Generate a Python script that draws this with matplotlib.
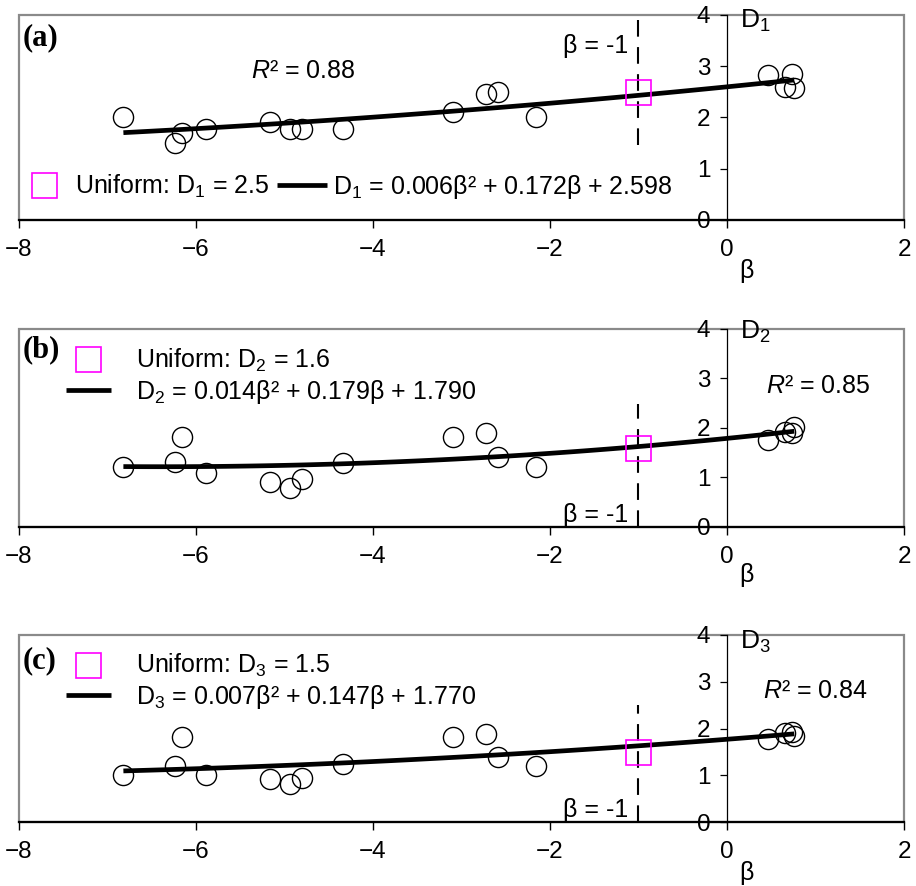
import matplotlib
matplotlib.use("Agg")
import matplotlib.pyplot as plt
import numpy as np
from matplotlib.patches import Rectangle

plt.rcParams['font.family'] = ['Liberation Sans', 'DejaVu Sans']
plt.rcParams['mathtext.fontset'] = 'custom'
plt.rcParams['mathtext.rm'] = 'Liberation Sans'
plt.rcParams['mathtext.it'] = 'Liberation Sans:italic'

# beta of each sample (same in all three panels)
beta = [-6.82, -6.24, -6.16, -5.89, -5.16, -4.94, -4.80, -4.34,
        -3.10, -2.72, -2.59, -2.16, 0.46, 0.65, 0.73, 0.76]

D1 = [2.0, 1.5, 1.7, 1.78, 1.91, 1.78, 1.78, 1.77,
      2.1, 2.45, 2.5, 2.0, 2.82, 2.6, 2.84, 2.58]
D2 = [1.21, 1.31, 1.82, 1.1, 0.91, 0.79, 0.96, 1.3,
      1.82, 1.9, 1.41, 1.21, 1.76, 1.92, 1.89, 2.02]
D3 = [1.01, 1.2, 1.81, 1.0, 0.91, 0.81, 0.95, 1.25,
      1.81, 1.89, 1.39, 1.2, 1.77, 1.9, 1.93, 1.83]

# quadratic fits as printed on the chart
fit1 = [0.006, 0.172, 2.598]
fit2 = [0.014, 0.179, 1.790]
fit3 = [0.007, 0.147, 1.770]

r2 = [0.88, 0.85, 0.84]
uniform_beta = -1
uniform_D = [2.5, 1.6, 1.5]
ref_span = [(1.47, 3.92), (0.0, 2.49), (0.0, 2.5)]

panels = [
    dict(tag='(a)', D=D1, fit=fit1, sub='1', rect=[0.0207, 0.7517, 0.9662, 0.2314],
         tag_y=1 - 23 / 205, dlab_y=3.88, r2_xy=(-5.38, 2.9), bref_y=3.39,
         one_row=True, leg_y=0.161, xlab_y=-51 / 205),
    dict(tag='(b)', D=D2, fit=fit2, sub='2', rect=[0.0207, 0.4052, 0.9662, 0.2235],
         tag_y=1 - 21 / 198, dlab_y=3.94, r2_xy=(0.44, 2.84), bref_y=0.24,
         one_row=False, leg_y=0.76, xlab_y=-48 / 198),
    dict(tag='(c)', D=D3, fit=fit3, sub='3', rect=[0.0207, 0.0722, 0.9662, 0.2111],
         tag_y=1 - 26 / 187, dlab_y=3.85, r2_xy=(0.41, 2.80), bref_y=0.26,
         one_row=False, leg_y=0.75, xlab_y=-51 / 187),
]

fig = plt.figure(figsize=(9.16, 8.86), dpi=100)

for i, p in enumerate(panels):
    ax = fig.add_axes(p['rect'])
    ax.set_xlim(-8, 2)
    ax.set_ylim(0, 4)

    # gray plot-area frame
    ax.add_patch(Rectangle((0, 0), 1, 1, transform=ax.transAxes, fill=False,
                           edgecolor='#8a8a8a', lw=1.6, clip_on=False, zorder=0))
    for s in ['top', 'right']:
        ax.spines[s].set_visible(False)
    ax.spines['left'].set_position(('data', 0))
    ax.spines['left'].set_linewidth(0.9)
    ax.spines['bottom'].set_linewidth(1.6)

    ax.set_xticks([-8, -6, -4, -2, 0, 2])
    ax.set_yticks([0, 1, 2, 3, 4])
    ax.tick_params(axis='x', direction='out', length=6, width=1, pad=8, labelsize=17.5)
    ax.tick_params(axis='y', direction='out', length=5, width=0.9, pad=7, labelsize=17.5)

    ax.plot(beta, p['D'], 'o', ms=14.5, mfc='none', mec='black', mew=1.0, zorder=3)

    bb = np.linspace(min(beta), max(beta), 100)
    a, b, c = p['fit']
    eq = ('D$_%s$ = %.3fβ² + %.3fβ + %.3f' % (p['sub'], a, b, c))
    line, = ax.plot(bb, np.polyval(p['fit'], bb), color='black', lw=3.4,
                    solid_capstyle='butt', zorder=4, label=eq)
    sq, = ax.plot([uniform_beta], [uniform_D[i]], 's', ms=18, mfc='none',
                  mec='#ff00ff', mew=1.2, zorder=5,
                  label='Uniform: D$_%s$ = %.1f' % (p['sub'], uniform_D[i]))

    lo, hi = ref_span[i]
    ax.vlines(uniform_beta, lo, hi, colors='black', lw=1.5,
              linestyles=(0, (8, 5)), zorder=2)
    ax.text(uniform_beta - 0.12, p['bref_y'], 'β = -1', fontsize=18,
            ha='right', va='center')

    ax.text(p['r2_xy'][0], p['r2_xy'][1], '$R$² = %.2f' % r2[i], fontsize=18,
            ha='left', va='center')
    ax.text(0.15, p['dlab_y'], 'D$_%s$' % p['sub'], fontsize=19, ha='left', va='center')
    ax.text(0.004, p['tag_y'], p['tag'], transform=ax.transAxes, fontsize=22,
            fontweight='bold', family='Liberation Serif', va='center')

    ax.set_xlabel('β', fontsize=18, va='center')
    ax.xaxis.set_label_coords(0.822, p['xlab_y'])

    if p['one_row']:
        ax.legend(handles=[sq, line], ncol=2, loc='center left',
                  bbox_to_anchor=(0.0, p['leg_y']), frameon=False, fontsize=18,
                  handlelength=2.0, handletextpad=0.25, columnspacing=0.3,
                  borderpad=0, borderaxespad=0)
    else:
        ax.legend(handles=[sq, line], ncol=1, loc='center left',
                  bbox_to_anchor=(0.053, p['leg_y']), frameon=False, fontsize=18,
                  handlelength=1.8, handletextpad=1.0, labelspacing=0.15,
                  borderpad=0, borderaxespad=0)

fig.savefig('out.png', dpi=100)
